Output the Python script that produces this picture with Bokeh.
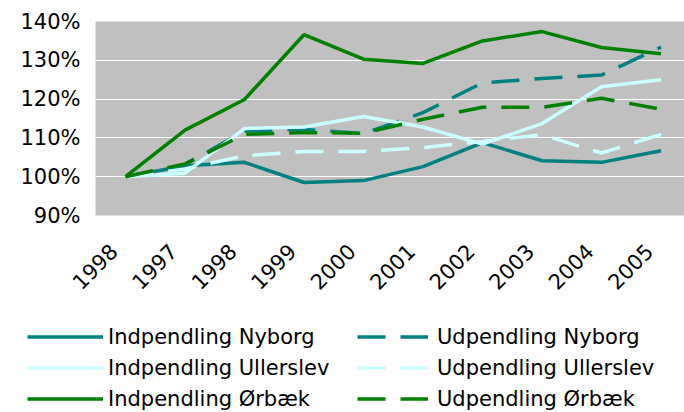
from bokeh.plotting import figure
from bokeh.models import FixedTicker, Legend, LegendItem, Range1d
from bokeh.embed import file_html
from bokeh.resources import INLINE
import math

years = ["1998", "1997", "1998", "1999", "2000", "2001", "2002", "2003", "2004", "2005"]
ind_nyborg = [100, 102.8, 103.7, 98.5, 99.0, 102.6, 108.8, 104.1, 103.7, 106.7]
ud_nyborg = [100, 103.1, 111.8, 112.2, 111.1, 116.5, 124.2, 125.3, 126.2, 133.4]
ind_ullerslev = [100, 100.9, 112.4, 112.8, 115.5, 112.8, 108.4, 113.7, 123.2, 125.0]
ud_ullerslev = [100, 102.0, 105.4, 106.5, 106.5, 107.5, 109.1, 110.8, 106.1, 110.9]
ind_orbaek = [100, 112.0, 119.9, 136.6, 130.3, 129.2, 135.0, 137.4, 133.3, 131.7]
ud_orbaek = [100, 103.3, 110.9, 111.4, 111.2, 114.8, 117.9, 117.9, 120.2, 117.4]
y_ticks = [90, 100, 110, 120, 130, 140]

series = [
    ("Indpendling Nyborg", ind_nyborg, "#008080", "solid"),
    ("Udpendling Nyborg", ud_nyborg, "#008080", "28 15"),
    ("Indpendling Ullerslev", ind_ullerslev, "#CCFFFF", "solid"),
    ("Udpendling Ullerslev", ud_ullerslev, "#CCFFFF", "28 15"),
    ("Indpendling Ørbæk", ind_orbaek, "#008000", "solid"),
    ("Udpendling Ørbæk", ud_orbaek, "#008000", "28 15"),
]
FONT = "DejaVu Sans"
LW = 3.5

xs = list(range(len(years)))
frame_w = 684 - 95
x0 = -0.504
x1 = x0 + frame_w / 59.5

p = figure(width=684, height=312, output_backend="svg", toolbar_location=None,
           x_range=Range1d(x0, x1), y_range=Range1d(90, 140),
           min_border_left=95, min_border_right=0, min_border_top=21, min_border_bottom=97)
p.background_fill_color = "#C0C0C0"
p.border_fill_color = "white"
p.outline_line_color = None

p.xgrid.grid_line_color = None
p.ygrid.grid_line_color = "white"
p.ygrid.grid_line_width = 1.2
p.yaxis.ticker = FixedTicker(ticks=y_ticks)
p.yaxis.major_label_overrides = {v: f"{v}%" for v in y_ticks}
# tick labels sit slightly left of each category (as in the reference)
label_pos = [i - 0.2 for i in xs]
p.xaxis.ticker = FixedTicker(ticks=label_pos)
p.xaxis.major_label_overrides = {pos: y for pos, y in zip(label_pos, years)}
p.xaxis.major_label_orientation = math.pi / 4

for ax in (p.xaxis, p.yaxis):
    ax.axis_line_color = None
    ax.major_tick_line_color = None
    ax.minor_tick_line_color = None
    ax.major_tick_out = 0
    ax.minor_tick_out = 0
    ax.major_label_text_font = FONT
    ax.major_label_text_font_size = "21px"
    ax.major_label_text_color = "black"
p.yaxis.major_label_standoff = 15
p.xaxis.major_label_standoff = 32

for name, vals, color, dash in series:
    p.line(xs, vals, line_color=color, line_width=LW, line_dash=dash)

# legend panel (proxy lines share the data but lie outside this panel's range)
lp = figure(width=684, height=100, output_backend="svg", toolbar_location=None,
            x_range=Range1d(-100, -99), y_range=Range1d(-100, -99),
            x_axis_location=None, y_axis_location=None,
            min_border=0, min_border_left=0, min_border_right=0,
            min_border_top=0, min_border_bottom=0)
lp.grid.visible = False
lp.outline_line_color = None
lp.background_fill_color = "white"
lp.border_fill_color = "white"

items_left, items_right = [], []
for name, vals, color, dash in series:
    r = lp.line(xs, vals, line_color=color, line_width=LW, line_dash=dash)
    (items_left if name.startswith("Ind") else items_right).append(LegendItem(label=name, renderers=[r]))

def make_legend(items, loc, gw, standoff):
    return Legend(items=items, location=loc, orientation="vertical",
                  glyph_width=gw, glyph_height=31, label_height=31, spacing=0,
                  padding=0, margin=0, label_standoff=standoff,
                  border_line_color=None, background_fill_alpha=0,
                  label_text_font=FONT, label_text_font_size="21px",
                  label_text_color="black")

lp.add_layout(make_legend(items_left, (27, -2), 76, 5))
lp.add_layout(make_legend(items_right, (357, -2), 71, 9))

open("out.html", "w").write(file_html([p, lp], INLINE))
